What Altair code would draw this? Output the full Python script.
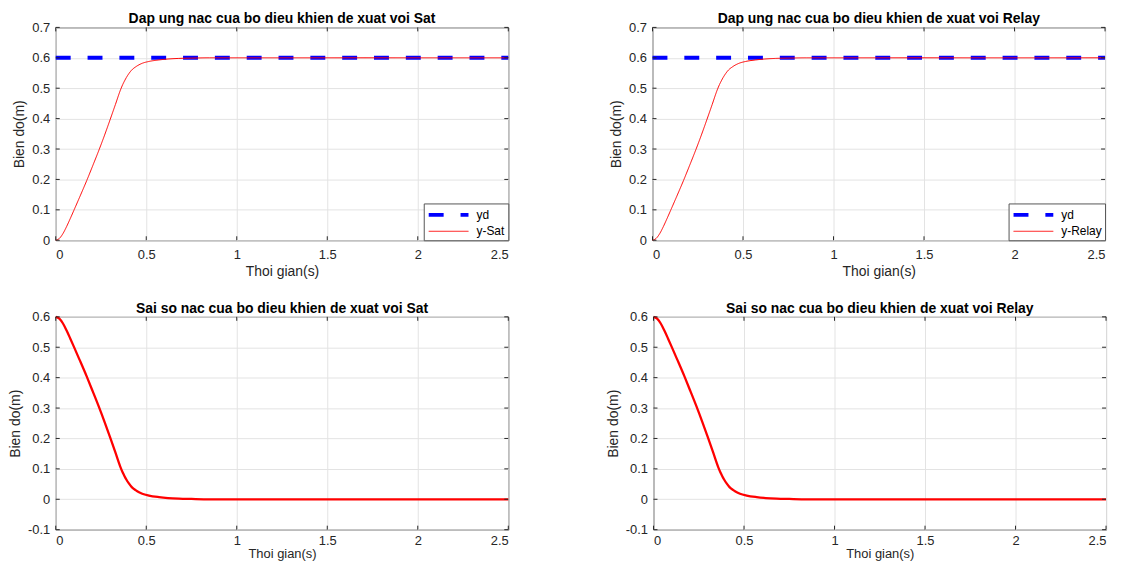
import altair as alt
import pandas as pd

# ---- data ----
t_resp = [0, 0.02, 0.04, 0.06, 0.08, 0.10, 0.13, 0.171, 0.205, 0.239, 0.27, 0.30,
          0.33, 0.358, 0.37, 0.38, 0.39, 0.404, 0.42, 0.441, 0.46, 0.478, 0.515,
          0.57, 0.62, 0.68, 0.75, 0.85, 1.0, 1.5, 2.0, 2.5]
y_sat = [0, 0.006, 0.022, 0.045, 0.071, 0.098, 0.139, 0.196, 0.246, 0.297, 0.346,
         0.396, 0.447, 0.495, 0.512, 0.524, 0.535, 0.548, 0.560, 0.570, 0.577,
         0.582, 0.588, 0.593, 0.596, 0.598, 0.599, 0.600, 0.600, 0.600, 0.600, 0.600]
y_relay = [0, 0.006, 0.022, 0.045, 0.071, 0.098, 0.139, 0.196, 0.246, 0.297, 0.346,
           0.396, 0.447, 0.495, 0.512, 0.524, 0.535, 0.548, 0.560, 0.570, 0.577,
           0.582, 0.588, 0.593, 0.596, 0.598, 0.599, 0.600, 0.600, 0.600, 0.600, 0.600]
e_sat = [0.600, 0.594, 0.578, 0.555, 0.529, 0.502, 0.461, 0.404, 0.354, 0.303, 0.254,
         0.204, 0.153, 0.105, 0.088, 0.076, 0.065, 0.052, 0.040, 0.030, 0.023,
         0.018, 0.012, 0.007, 0.004, 0.002, 0.001, 0, 0, 0, 0, 0]
e_relay = [0.600, 0.594, 0.578, 0.555, 0.529, 0.502, 0.461, 0.404, 0.354, 0.303, 0.254,
           0.204, 0.153, 0.105, 0.088, 0.076, 0.065, 0.052, 0.040, 0.030, 0.023,
           0.018, 0.012, 0.007, 0.004, 0.002, 0.001, 0, 0, 0, 0, 0]
t_ref = [0, 2.5]
yd_val = [0.6, 0.6]

x_ticks = [0, 0.5, 1, 1.5, 2, 2.5]
y_ticks_top = [0, 0.1, 0.2, 0.3, 0.4, 0.5, 0.6, 0.7]
y_ticks_bot = [-0.1, 0, 0.1, 0.2, 0.3, 0.4, 0.5, 0.6]

titles = ["Dap ung nac cua bo dieu khien de xuat voi Sat",
          "Dap ung nac cua bo dieu khien de xuat voi Relay",
          "Sai so nac cua bo dieu khien de xuat voi Sat",
          "Sai so nac cua bo dieu khien de xuat voi Relay"]

W, H = 455, 214
FONT = "Liberation Sans"
TXT = "#262626"
LBL = "datum.value < 0 ? '-' + format(-datum.value, '~g') : format(datum.value, '~g')"


def xenc(right=False, bottom=False):
    kw = dict(values=x_ticks, labelExpr=LBL, title="Thoi gian(s)")
    if right:
        kw["labelFlush"] = True
    if bottom:
        kw.update(labelPadding=5, titlePadding=0, titleFontSize=13)
    else:
        kw.update(labelPadding=8, titlePadding=3)
    return alt.X("t:Q", scale=alt.Scale(domain=[0, 2.5], nice=False, zero=False),
                 axis=alt.Axis(**kw))


def yenc(dom, ticks):
    return alt.Y("y:Q", scale=alt.Scale(domain=dom, nice=False, zero=False),
                 axis=alt.Axis(values=ticks, labelExpr=LBL, title="Bien do(m)"))


def tick_layers(dom, ticks, right, bottom):
    xt = pd.DataFrame({"t": x_ticks})
    yt = pd.DataFrame({"y": ticks})
    rule = dict(color=TXT, strokeWidth=1)
    xe = xenc(right, bottom)
    return [
        alt.Chart(xt).mark_rule(**rule).encode(x=xe, y=alt.value(H), y2=alt.value(H - 4)),
        alt.Chart(xt).mark_rule(**rule).encode(x=xe, y=alt.value(0), y2=alt.value(4)),
        alt.Chart(yt).mark_rule(**rule).encode(y=yenc(dom, ticks), x=alt.value(0), x2=alt.value(4)),
        alt.Chart(yt).mark_rule(**rule).encode(y=yenc(dom, ticks), x=alt.value(W - 4), x2=alt.value(W)),
    ]


def ptitle(text):
    return alt.TitleParams(text, frame="group", anchor="middle", offset=-5)


def response_panel(title, yvals, name, right=False):
    df = pd.concat([
        pd.DataFrame({"t": t_ref, "y": yd_val, "series": "yd", "o": [0, 1]}),
        pd.DataFrame({"t": t_resp, "y": yvals, "series": name, "o": list(range(len(t_resp)))}),
    ])
    dom = [0, 0.7]
    leg = alt.Legend(title=None, orient="bottom-right", offset=0,
                     symbolType="M-1,0H5.15", symbolSize=169,
                     fillColor="white", strokeColor="#555555", padding=3,
                     labelFontSize=12, labelFont=FONT, labelColor="black", rowPadding=1,
                     labelOffset=33, symbolLimit=0)
    dmn = ["yd", name]
    lines = alt.Chart(df).mark_line(interpolate="monotone").encode(
        x=xenc(right), y=yenc(dom, y_ticks_top), order="o:Q",
        color=alt.Color("series:N", scale=alt.Scale(domain=dmn, range=["#0000ff", "#ff0000"]), legend=leg),
        strokeDash=alt.StrokeDash("series:N", scale=alt.Scale(domain=dmn, range=[[15, 17], [1, 0]]), legend=leg),
        strokeWidth=alt.StrokeWidth("series:N", scale=alt.Scale(domain=dmn, range=[4, 1]), legend=leg),
    )
    return alt.layer(lines, *tick_layers(dom, y_ticks_top, right, False)).properties(
        width=W, height=H, title=ptitle(title))


def error_panel(title, evals, right=False):
    df = pd.DataFrame({"t": t_resp, "y": evals})
    dom = [-0.1, 0.6]
    line = alt.Chart(df).mark_line(interpolate="monotone", color="#ff0000", strokeWidth=2.3).encode(
        x=xenc(right, True), y=yenc(dom, y_ticks_bot))
    return alt.layer(line, *tick_layers(dom, y_ticks_bot, right, True)).properties(
        width=W, height=H, title=ptitle(title))


top = alt.hconcat(response_panel(titles[0], y_sat, "y-Sat"),
                  response_panel(titles[1], y_relay, "y-Relay", right=True), spacing=92
                  ).resolve_scale(color="independent", strokeDash="independent",
                                  strokeWidth="independent").resolve_legend(
                      color="independent", strokeDash="independent", strokeWidth="independent")
bot = alt.hconcat(error_panel(titles[2], e_sat), error_panel(titles[3], e_relay, right=True),
                  spacing=92)

chart = alt.vconcat(top, bot, spacing=22).properties(
    background="white", padding={"left": 0, "top": 2, "right": 0, "bottom": 0}
).configure_view(
    stroke=TXT, strokeWidth=1
).configure_axis(
    domain=False, ticks=False, grid=True, gridColor="#e3e3e3", gridWidth=1,
    labelFont=FONT, labelFontSize=13, labelColor=TXT,
    titleFont=FONT, titleFontSize=14, titleFontWeight="normal", titleColor=TXT
).configure_axisY(
    labelPadding=6, titlePadding=5
).configure_title(
    font=FONT, fontSize=14, fontWeight="bold", color="black"
)

chart.save("out.html", embed_options={"renderer": "svg", "actions": False})
